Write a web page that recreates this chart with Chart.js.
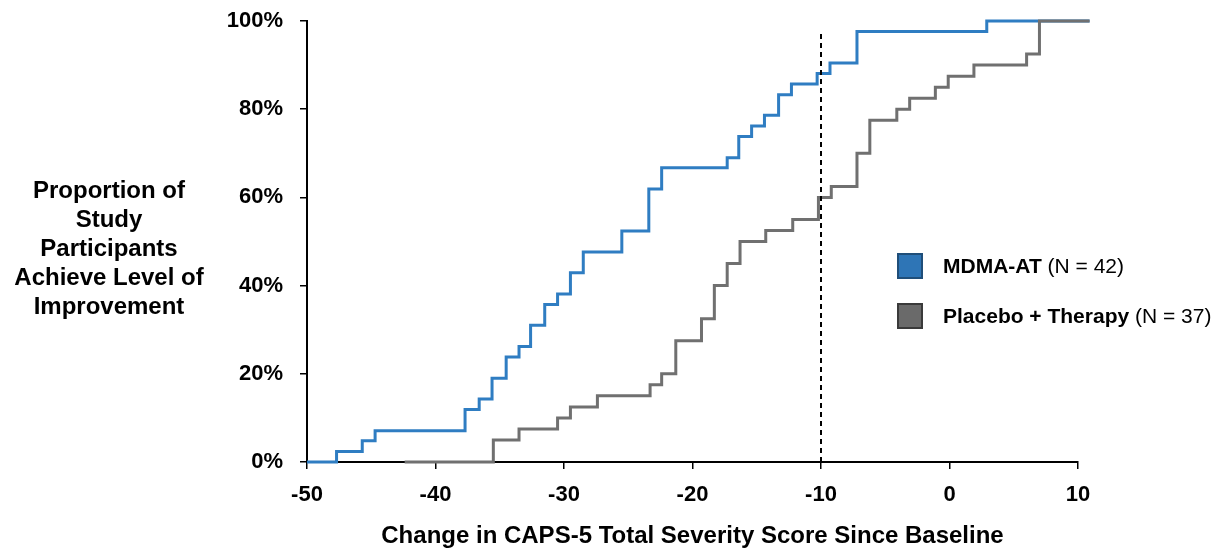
<!DOCTYPE html>
<html>
<head>
<meta charset="utf-8">
<title>CAPS-5 change</title>
<script src="https://cdn.jsdelivr.net/npm/chart.js@4/dist/chart.umd.min.js"></script>
<style>
  html, body { margin: 0; padding: 0; background: #fff; }
</style>
</head>
<body>
<canvas id="chart" width="1228" height="548"></canvas>
<script>
// cumulative share of participants reaching each CAPS-5 change (step curves)
const mdmaX = [-50, -47.7, -45.7, -44.7, -37.7, -36.6, -35.6, -34.5, -33.5, -32.6, -31.5, -30.5, -29.5, -28.5,
  -25.5, -23.4, -22.4, -17.3, -16.4, -15.4, -14.4, -13.3, -12.3, -10.3, -9.3, -7.2, 2.9, 10.9];
const mdmaY = [0, 2.4, 4.8, 7.1, 11.9, 14.3, 19.0, 23.8, 26.2, 31.0, 35.7, 38.1, 42.9, 47.6,
  52.4, 61.9, 66.7, 69.0, 73.8, 76.2, 78.6, 83.3, 85.7, 88.1, 90.5, 97.6, 100, 100];

const placeboX = [-42.4, -35.5, -33.5, -30.5, -29.5, -27.4, -23.3, -22.4, -21.3, -19.3, -18.3, -17.3, -16.3, -14.3,
  -12.2, -10.2, -9.2, -7.2, -6.2, -4.1, -3.1, -1.1, -0.1, 1.9, 6.0, 7.0, 10.9];
const placeboY = [0, 5, 7.5, 10, 12.5, 15, 17.5, 20, 27.5, 32.5, 40, 45, 50, 52.5,
  55, 60, 62.5, 70, 77.5, 80, 82.5, 85, 87.5, 90, 92.5, 100, 100];

const seriesNames = ['MDMA-AT', 'Placebo + Therapy'];
const seriesCounts = ['(N = 42)', '(N = 37)'];
const thresholdX = -10;
const thresholdTop = 97.3;

const xTicks = [-50, -40, -30, -20, -10, 0, 10];
const yTicks = [0, 20, 40, 60, 80, 100];
const yTitle = ['Proportion of', 'Study', 'Participants', 'Achieve Level of', 'Improvement'];
const xTitle = 'Change in CAPS-5 Total Severity Score Since Baseline';

const FONT = '"Liberation Sans", Arial, sans-serif';
const BLUE = '#2F7DC2';
const GRAY = '#707070';

const toPoints = (xs, ys) => xs.map((x, i) => ({ x: x, y: ys[i] }));

// y title and legend sit outside the chart area, drawn by hand
const sideText = {
  id: 'sideText',
  afterDraw(chart) {
    const ctx = chart.ctx;
    ctx.save();
    ctx.fillStyle = '#000';
    ctx.textAlign = 'center';
    ctx.textBaseline = 'middle';
    ctx.font = 'bold 24px ' + FONT;
    yTitle.forEach((line, i) => ctx.fillText(line, 109, 191 + i * 29.2));

    const boxes = [
      { fill: '#2E75B6', edge: '#1F4E79', y: 254 },
      { fill: '#6A6A6A', edge: '#3A3A3A', y: 304 }
    ];
    boxes.forEach((b, i) => {
      ctx.fillStyle = b.fill;
      ctx.fillRect(898, b.y, 24, 24);
      ctx.strokeStyle = b.edge;
      ctx.lineWidth = 2;
      ctx.strokeRect(898, b.y, 24, 24);

      ctx.fillStyle = '#000';
      ctx.textAlign = 'left';
      ctx.font = 'bold 21px ' + FONT;
      ctx.fillText(seriesNames[i], 943, b.y + 13);
      const w = ctx.measureText(seriesNames[i] + ' ').width;
      ctx.font = '21px ' + FONT;
      ctx.fillText(seriesCounts[i], 943 + w, b.y + 13);
    });
    ctx.restore();
  }
};

new Chart(document.getElementById('chart'), {
  type: 'line',
  data: {
    datasets: [
      {
        label: 'threshold',
        data: [{ x: thresholdX, y: 0 }, { x: thresholdX, y: thresholdTop }],
        borderColor: '#000',
        borderWidth: 2,
        borderDash: [5, 4],
        pointRadius: 0
      },
      {
        label: seriesNames[1],
        data: toPoints(placeboX, placeboY),
        borderColor: GRAY,
        borderWidth: 3,
        stepped: 'before',
        pointRadius: 0,
        clip: false
      },
      {
        label: seriesNames[0],
        data: toPoints(mdmaX, mdmaY),
        borderColor: BLUE,
        borderWidth: 3,
        stepped: 'before',
        pointRadius: 0,
        clip: false
      }
    ]
  },
  options: {
    responsive: false,
    animation: false,
    layout: { padding: { left: 0, right: 150, top: 21, bottom: 0 } },
    plugins: { legend: { display: false }, tooltip: { enabled: false } },
    scales: {
      x: {
        type: 'linear',
        min: -50,
        max: 10,
        afterFit: (s) => { s.height = 86; s.paddingLeft = 0; s.paddingRight = 0; },
        afterBuildTicks: (s) => { s.ticks = xTicks.map(v => ({ value: v })); },
        border: { color: '#000', width: 2 },
        grid: { drawOnChartArea: false, drawTicks: true, tickLength: 7, color: '#000', lineWidth: 1.5 },
        ticks: {
          color: '#000',
          padding: 13,
          font: { family: FONT, size: 22, weight: 'bold' },
          maxRotation: 0
        },
        title: {
          display: true,
          text: xTitle,
          color: '#000',
          padding: { top: 0, bottom: 0 },
          font: { family: FONT, size: 24, weight: 'bold', lineHeight: 1 }
        }
      },
      y: {
        min: 0,
        max: 100,
        afterFit: (s) => { s.width = 307; s.paddingTop = 0; s.paddingBottom = 0; },
        afterBuildTicks: (s) => { s.ticks = yTicks.map(v => ({ value: v })); },
        border: { color: '#000', width: 2 },
        grid: { drawOnChartArea: false, drawTicks: true, tickLength: 7, color: '#000', lineWidth: 1.5 },
        ticks: {
          color: '#000',
          padding: 17,
          font: { family: FONT, size: 22, weight: 'bold' },
          callback: (v) => v + '%'
        }
      }
    }
  },
  plugins: [sideText]
});
</script>
</body>
</html>
